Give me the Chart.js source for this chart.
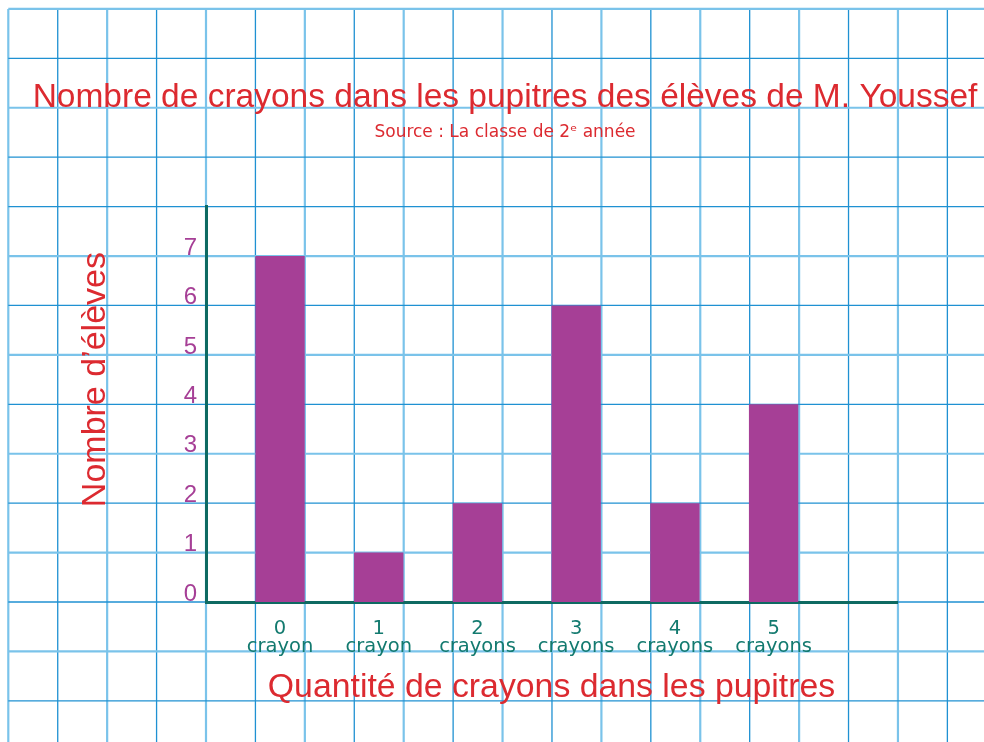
<!DOCTYPE html>
<html lang="fr">
<head>
<meta charset="utf-8">
<title>Nombre de crayons dans les pupitres</title>
<script src="https://cdn.jsdelivr.net/npm/chart.js@4.4.1/dist/chart.umd.min.js"></script>
<style>
  html, body { margin: 0; padding: 0; background: #fff; }
  #crayonsChart { display: block; }
</style>
</head>
<body>
<canvas id="crayonsChart" width="984" height="742"></canvas>
<script>
// Données du graphique
const quantities = [0, 1, 2, 3, 4, 5];
const quantityUnits = ['crayon', 'crayon', 'crayons', 'crayons', 'crayons', 'crayons'];
const studentCounts = [7, 1, 2, 6, 2, 4];
const countTicks = [0, 1, 2, 3, 4, 5, 6, 7];

const FONT = "'Liberation Sans', Arial, sans-serif";
const WIDE_FONT = "'DejaVu Sans', sans-serif";
const RED = '#dc2a30';
const PURPLE = '#a63f96';
const TEAL = '#137a6f';
const AXIS = '#0e6a62';
const GRID_LIGHT = '#7ac3ea';
const GRID_DARK = '#1f91d2';

// Quadrillage du cahier, aligné sur les unités de l'axe vertical
const paperGrid = {
    id: 'paperGrid',
    beforeDraw(chart) {
        const { ctx, width, height, scales: { x, y } } = chart;
        const step = y.getPixelForValue(0) - y.getPixelForValue(1);
        const x0 = x.left;
        const y0 = y.getPixelForValue(0);
        const startX = x0 - Math.floor((x0 - 8) / step) * step;
        const startY = y0 - Math.floor((y0 - 8) / step) * step;
        const line = (light, x1, y1, x2, y2) => {
            ctx.strokeStyle = light ? GRID_LIGHT : GRID_DARK;
            ctx.lineWidth = light ? 2.2 : 1.3;
            ctx.beginPath();
            ctx.moveTo(x1, y1);
            ctx.lineTo(x2, y2);
            ctx.stroke();
        };
        ctx.save();
        ctx.fillStyle = '#fff';
        ctx.fillRect(0, 0, width, height);
        let i = 0;
        for (let px = startX; px <= width + 1; px += step, i++) {
            line(i % 2 === 0, px, startY, px, height);
        }
        i = 0;
        for (let py = startY; py <= height + 1; py += step, i++) {
            line(i < 4 ? i % 2 === 0 : i % 2 === 1, startX, py, width, py);
        }
        ctx.restore();
    }
};

// Titre de l'axe vertical, centré sur la zone des barres
const yAxisTitle = {
    id: 'yAxisTitle',
    afterDraw(chart) {
        const { ctx, scales: { y } } = chart;
        ctx.save();
        ctx.translate(96, y.getPixelForValue(4.5));
        ctx.rotate(-Math.PI / 2);
        ctx.fillStyle = RED;
        ctx.font = '34px ' + FONT;
        ctx.textAlign = 'center';
        ctx.textBaseline = 'middle';
        ctx.fillText('Nombre d\u2019élèves', 0, 0);
        ctx.restore();
    }
};

const chart = new Chart(document.getElementById('crayonsChart'), {
    type: 'bar',
    data: {
        datasets: [{
            data: quantities.map((q, i) => ({ x: q, y: studentCounts[i] })),
            backgroundColor: PURPLE,
            borderWidth: 0,
            barPercentage: 0.5,
            categoryPercentage: 1
        }]
    },
    options: {
        responsive: false,
        animation: false,
        layout: { padding: { left: 26, right: 0, top: 0, bottom: 0 } },
        plugins: {
            legend: { display: false },
            tooltip: { enabled: false },
            title: {
                display: true,
                text: 'Nombre de crayons dans les pupitres des élèves de M. Youssef',
                color: RED,
                font: { family: FONT, size: 33.5, weight: 'normal' },
                padding: { top: 78, bottom: 0 }
            },
            subtitle: {
                display: true,
                text: 'Source : La classe de 2\u1D49 année',
                color: RED,
                font: { family: WIDE_FONT, size: 17, weight: 'normal' },
                padding: { top: 4, bottom: 64 }
            }
        },
        scales: {
            x: {
                type: 'linear',
                offset: false,
                min: -0.75,
                max: 6.25,
                grid: { display: false, drawTicks: false },
                border: { color: AXIS, width: 3 },
                afterBuildTicks: s => { s.ticks = quantities.map(v => ({ value: v })); },
                afterFit: s => { s.height = 140; },
                ticks: {
                    autoSkip: false,
                    maxRotation: 0,
                    padding: 18,
                    color: TEAL,
                    font: { family: WIDE_FONT, size: 19.5, lineHeight: '18px' },
                    callback: v => [String(v), quantityUnits[quantities.indexOf(v)]]
                },
                title: {
                    display: true,
                    text: 'Quantité de crayons dans les pupitres',
                    color: RED,
                    font: { family: FONT, size: 33.8, weight: 'normal' },
                    padding: { top: 0, bottom: 34 }
                }
            },
            y: {
                min: 0,
                max: 8,
                grid: { display: false, drawTicks: false },
                border: { color: AXIS, width: 3 },
                afterBuildTicks: s => { s.ticks = countTicks.map(v => ({ value: v })); },
                afterFit: s => { s.width = 180; },
                ticks: {
                    padding: 9,
                    labelOffset: -8,
                    color: PURPLE,
                    font: { family: FONT, size: 24 }
                }
            },
            // marge à droite du graphique (l'axe horizontal s'arrête avant le bord)
            right: {
                position: 'right',
                grid: { display: false },
                border: { display: false },
                ticks: { display: false },
                afterFit: s => { s.width = 87; }
            }
        }
    },
    plugins: [paperGrid, yAxisTitle]
});
</script>
</body>
</html>
